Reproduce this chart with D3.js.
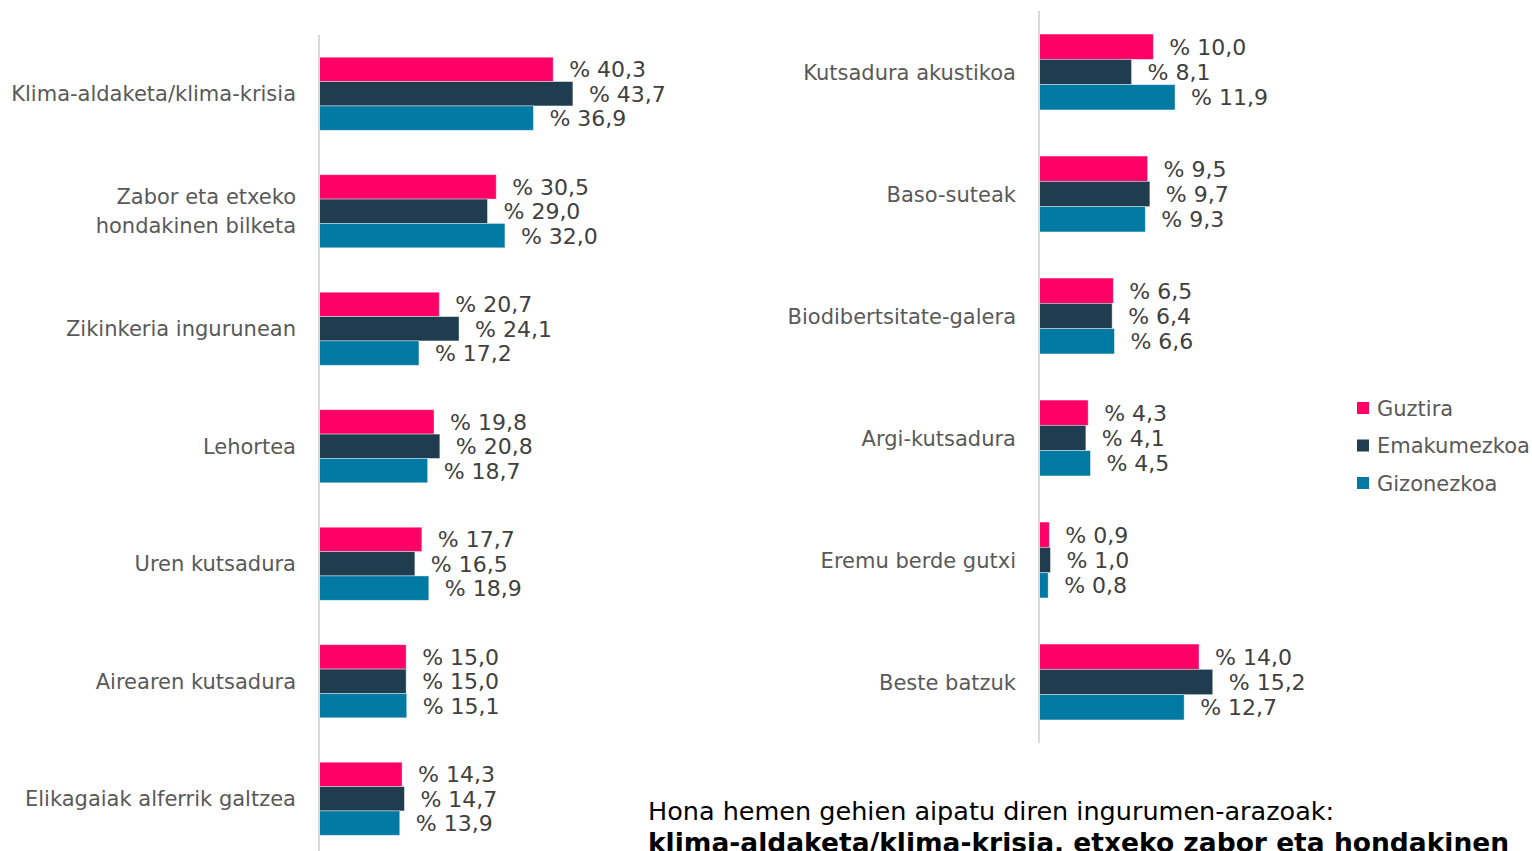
<!DOCTYPE html>
<html>
<head>
<meta charset="utf-8">
<script src="https://cdn.jsdelivr.net/npm/d3@7"></script>
<style>
  body { margin: 0; background: #fff; overflow: hidden; }
  svg { display: block; font-family: "DejaVu Sans", sans-serif; }
</style>
</head>
<body>
<div id="chart"></div>
<script>
// === DATA ===
const series = ["Guztira", "Emakumezkoa", "Gizonezkoa"];
const colors = ["#ff0066", "#203c4f", "#0079a3"];

const leftCats = [
  ["Klima-aldaketa/klima-krisia"],
  ["Zabor eta etxeko", "hondakinen bilketa"],
  ["Zikinkeria ingurunean"],
  ["Lehortea"],
  ["Uren kutsadura"],
  ["Airearen kutsadura"],
  ["Elikagaiak alferrik galtzea"]
];
const leftGuztira = [40.3, 30.5, 20.7, 19.8, 17.7, 15.0, 14.3];
const leftEmakume = [43.7, 29.0, 24.1, 20.8, 16.5, 15.0, 14.7];
const leftGizon = [36.9, 32.0, 17.2, 18.7, 18.9, 15.1, 13.9];

const rightCats = [
  ["Kutsadura akustikoa"],
  ["Baso-suteak"],
  ["Biodibertsitate-galera"],
  ["Argi-kutsadura"],
  ["Eremu berde gutxi"],
  ["Beste batzuk"]
];
const rightGuztira = [10.0, 9.5, 6.5, 4.3, 0.9, 14.0];
const rightEmakume = [8.1, 9.7, 6.4, 4.1, 1.0, 15.2];
const rightGizon = [11.9, 9.3, 6.6, 4.5, 0.8, 12.7];

const noteLine1 = "Hona hemen gehien aipatu diren ingurumen-arazoak:";
const noteLine2 = "klima-aldaketa/klima-krisia, etxeko zabor eta hondakinen";

// === SETUP ===
const width = 1532, height = 851;
const svg = d3.select("#chart").append("svg")
  .attr("width", width)
  .attr("height", height);

const fmt = v => "% " + v.toFixed(1).replace(".", ",");

function drawPanel(cats, vals, opt) {
  const g = svg.append("g");
  const idx = d3.range(cats.length);

  const y = d3.scaleBand()
    .domain(idx)
    .range([opt.y0, opt.y1])
    .paddingInner(0.378)
    .paddingOuter(0.189);

  const ySub = d3.scaleBand()
    .domain(series)
    .range([0, y.bandwidth()]);

  const x = d3.scaleLinear()
    .domain([0, 1])
    .range([opt.x0, opt.x0 + opt.pxPerUnit]);

  const rows = idx.flatMap(i => series.map((s, k) => ({ i, s, k, v: vals[k][i] })));

  g.selectAll("rect.bar")
    .data(rows)
    .join("rect")
    .attr("class", "bar")
    .attr("x", x(0))
    .attr("y", d => y(d.i) + ySub(d.s))
    .attr("width", d => x(d.v) - x(0))
    .attr("height", ySub.bandwidth())
    .attr("fill", d => colors[d.k])
    .attr("stroke", "#ffffff")
    .attr("stroke-opacity", 0.5)
    .attr("stroke-width", 0.8);

  g.selectAll("text.val")
    .data(rows)
    .join("text")
    .attr("class", "val")
    .attr("x", d => x(d.v) + 16)
    .attr("y", d => y(d.i) + ySub(d.s) + ySub.bandwidth() / 2)
    .attr("dy", "0.36em")
    .attr("font-size", "22px")
    .attr("fill", "#404040")
    .text(d => fmt(d.v));

  // axis line
  g.append("line")
    .attr("x1", x(0)).attr("x2", x(0))
    .attr("y1", opt.y0).attr("y2", opt.y1)
    .attr("stroke", "#d9d9d9")
    .attr("stroke-width", 2);

  // category labels
  const lab = g.selectAll("text.cat")
    .data(idx)
    .join("text")
    .attr("class", "cat")
    .attr("text-anchor", "end")
    .attr("font-size", "21px")
    .attr("fill", "#595959");

  lab.each(function (i) {
    const lines = cats[i];
    const cy = y(i) + y.bandwidth() / 2;
    const lh = 29;
    lines.forEach((t, j) => {
      d3.select(this).append("tspan")
        .attr("x", x(0) - 23)
        .attr("y", cy + (j - (lines.length - 1) / 2) * lh)
        .attr("dy", "0.36em")
        .text(t);
    });
  });
}

drawPanel(leftCats, [leftGuztira, leftEmakume, leftGizon],
  { x0: 319, pxPerUnit: 5.81, y0: 35, y1: 857.5 });
drawPanel(rightCats, [rightGuztira, rightEmakume, rightGizon],
  { x0: 1039, pxPerUnit: 11.43, y0: 11, y1: 743 });

// legend
const legend = svg.append("g").attr("transform", "translate(1357,408)");
legend.selectAll("rect")
  .data(series)
  .join("rect")
  .attr("x", 0)
  .attr("y", (d, i) => i * 37.5 - 6)
  .attr("width", 12)
  .attr("height", 12)
  .attr("fill", (d, i) => colors[i]);
legend.selectAll("text")
  .data(series)
  .join("text")
  .attr("x", 20)
  .attr("y", (d, i) => i * 37.5)
  .attr("dy", "0.36em")
  .attr("font-size", "21px")
  .attr("fill", "#595959")
  .text(d => d);

// note text
svg.append("text")
  .attr("x", 648).attr("y", 820)
  .attr("font-size", "25.5px")
  .attr("fill", "#000")
  .text(noteLine1);
svg.append("text")
  .attr("x", 648).attr("y", 852)
  .attr("font-size", "26.5px")
  .attr("font-weight", "bold")
  .attr("fill", "#000")
  .text(noteLine2);
</script>
</body>
</html>
